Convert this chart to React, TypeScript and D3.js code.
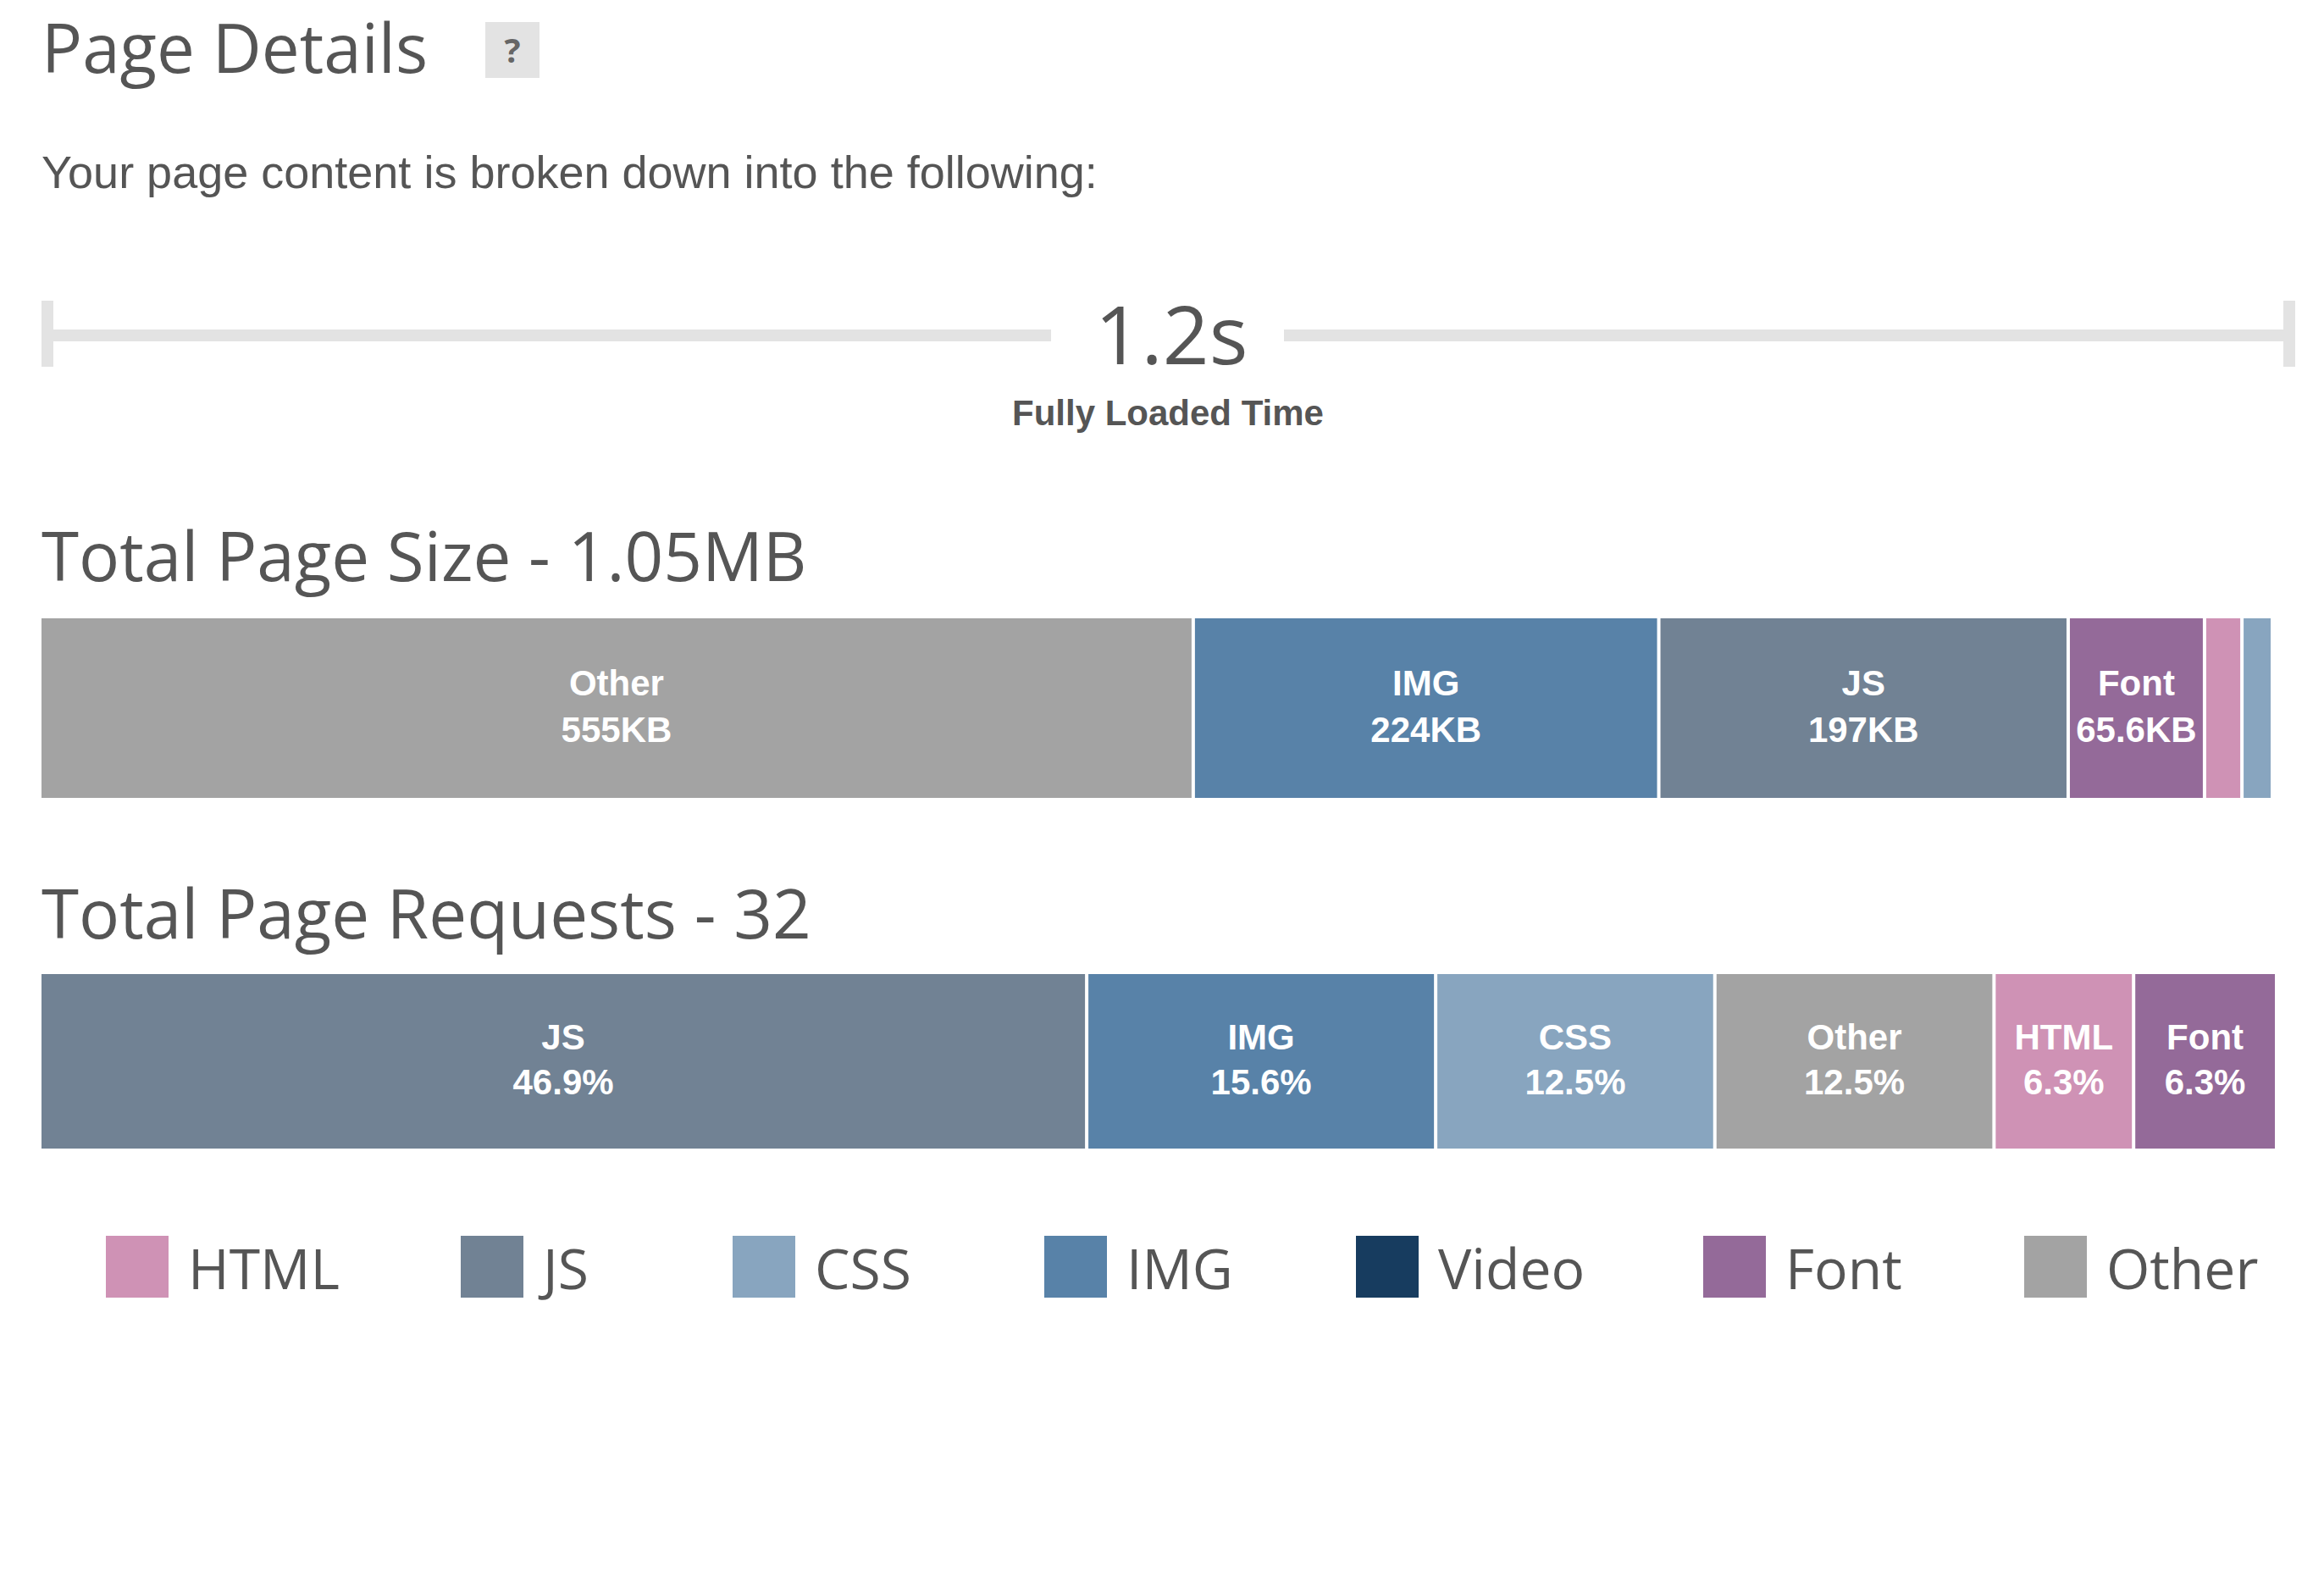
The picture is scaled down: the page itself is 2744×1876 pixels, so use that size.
import React from "react";
import * as d3 from "d3";

const colors: Record<string, string> = {
  HTML: "#cf92b5", JS: "#718294", CSS: "#88a5bf", IMG: "#5882a8",
  Video: "#173c5f", Font: "#946a99", Other: "#a3a3a3",
};
const legendItems = ["HTML", "JS", "CSS", "IMG", "Video", "Font", "Other"];
const sizeCats = ["Other", "IMG", "JS", "Font", "HTML", "CSS"];
const sizeValues = [555, 224, 197, 65.6, 18, 13];
const sizeLabels = ["555KB", "224KB", "197KB", "65.6KB", "", ""];
const reqCats = ["JS", "IMG", "CSS", "Other", "HTML", "Font"];
const reqValues = [15, 5, 4, 4, 2, 2];
const reqLabels = ["46.9%", "15.6%", "12.5%", "12.5%", "6.3%", "6.3%"];
const legendX = [125, 544, 865, 1233, 1601, 2011, 2390];

const FONT = "'Open Sans', 'DejaVu Sans', sans-serif";

function StackBar({ cats, values, labels, y0, y1, x0, x1 }: any) {
  const total = d3.sum(values as number[]);
  const x = d3.scaleLinear().domain([0, total]).range([x0, x1]);
  let acc = 0;
  const segs = (cats as string[]).map((c, i) => {
    const s = acc; acc += values[i];
    return { c, s, e: acc, label: labels[i] };
  });
  return (
    <g>
      {segs.map((d, i) => {
        const a = x(d.s), b = x(d.e) - (i < segs.length - 1 ? 4 : 0);
        const cx = (a + b) / 2;
        const h = y1 - y0;
        return (
          <g key={i}>
            <rect x={a} y={y0} width={b - a} height={h} fill={colors[d.c]} />
            {d.label && (
              <text x={cx} textAnchor="middle" fill="#fff" fontSize={42} fontWeight={600} fontFamily="'Liberation Sans', Arial, sans-serif">
                <tspan x={cx} y={y0 + h * 0.43}>{d.c}</tspan>
                <tspan x={cx} y={y0 + h * 0.69}>{d.label}</tspan>
              </text>
            )}
          </g>
        );
      })}
    </g>
  );
}

export default function App() {
  return (
    <svg width={2744} height={1876} style={{ position: "absolute", left: 0, top: 0, background: "#fff" }}>
      <text x={49} y={86} fontSize={80} fill="#555" fontFamily={FONT}>Page Details</text>
      <rect x={573} y={26} width={64} height={66} fill="#e3e3e3" />
      <text x={605} y={74} fontSize={40} fontWeight={700} fill="#666" textAnchor="middle" fontFamily={FONT}>?</text>
      <text x={49} y={222} fontSize={54} fill="#555" fontFamily="'Liberation Sans', Arial, sans-serif">Your page content is broken down into the following:</text>

      <rect x={56} y={389} width={1185} height={14} fill="#e3e3e3" />
      <rect x={1516} y={389} width={1184} height={14} fill="#e3e3e3" />
      <rect x={49} y={355} width={14} height={78} fill="#e3e3e3" />
      <rect x={2696} y={355} width={14} height={78} fill="#e3e3e3" />
      <text x={1383} y={430} fontSize={96} fill="#555" textAnchor="middle" fontFamily={FONT}>1.2s</text>
      <text x={1379} y={502} fontSize={42} fontWeight={700} fill="#555" textAnchor="middle" fontFamily="'Liberation Sans', Arial, sans-serif">Fully Loaded Time</text>

      <text x={49} y={686} fontSize={80} fill="#555" fontFamily={FONT}>Total Page Size - 1.05MB</text>
      <StackBar cats={sizeCats} values={sizeValues} labels={sizeLabels} y0={730} y1={942} x0={49} x1={2681} />

      <text x={49} y={1108} fontSize={80} fill="#555" fontFamily={FONT}>Total Page Requests - 32</text>
      <StackBar cats={reqCats} values={reqValues} labels={reqLabels} y0={1150} y1={1356} x0={49} x1={2686} />

      {legendItems.map((k, i) => (
        <g key={k}>
          <rect x={legendX[i]} y={1459} width={74} height={73} fill={colors[k]} />
          <text x={legendX[i] + 97} y={1522} fontSize={66} fill="#555" fontFamily={FONT}>{k}</text>
        </g>
      ))}
    </svg>
  );
}
